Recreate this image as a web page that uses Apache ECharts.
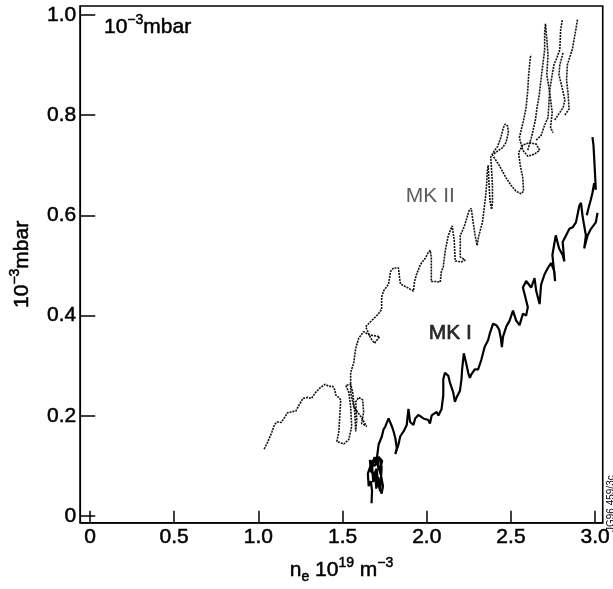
<!DOCTYPE html>
<html><head><meta charset="utf-8">
<script src="https://cdn.jsdelivr.net/npm/echarts@6/dist/echarts.min.js"></script>
<style>html,body{margin:0;padding:0;background:#fff}#c{width:613px;height:589px}</style>
</head><body><div id="c"></div>
<script>
const xTicks = [0, 0.5, 1.0, 1.5, 2.0, 2.5, 3.0];
const yTicks = [0, 0.2, 0.4, 0.6, 0.8, 1.0];
const labelNames = ['MK II', 'MK I'];
const labelPos = [[2.021, 0.639], [2.14, 0.364]];

const mk2Main = [
[1.034,0.134],[1.057,0.149],[1.080,0.168],[1.096,0.183],[1.112,0.188],[1.135,0.187],[1.158,0.198],[1.172,0.206],[1.195,0.208],[1.223,0.210],[1.242,0.222],[1.265,0.235],[1.293,0.237],[1.316,0.235],[1.327,0.241],[1.343,0.248],[1.366,0.256],[1.396,0.263],[1.419,0.259],[1.442,0.259],[1.454,0.252],[1.459,0.242],[1.477,0.237],
[1.489,0.232],[1.483,0.199],[1.478,0.169],[1.466,0.149],[1.507,0.144],[1.537,0.153],[1.554,0.179],[1.548,0.218],[1.537,0.247],[1.519,0.261],[1.548,0.263],[1.560,0.247],[1.572,0.208],[1.578,0.169],[1.584,0.193],[1.578,0.228],[1.596,0.237],[1.619,0.232],[1.625,0.208],[1.613,0.185],[1.643,0.179],[1.608,0.199],[1.566,0.218],[1.548,0.247],[1.548,0.286],[1.566,0.306],[1.578,0.335],[1.596,0.355],[1.625,0.368],[1.655,0.362],[1.720,0.358],[1.690,0.345],[1.667,0.355],[1.637,0.378],[1.673,0.390],[1.714,0.404],[1.732,0.413],[1.732,0.437],[1.743,0.449],[1.773,0.463],[1.785,0.488],[1.803,0.495],[1.832,0.495],[1.838,0.476],[1.844,0.463],[1.879,0.457],[1.921,0.449],[1.927,0.468],[1.939,0.482],[1.962,0.502],[1.992,0.515],[2.009,0.526],[2.021,0.530],[2.027,0.515],[2.027,0.495],[2.027,0.468],[2.051,0.468],[2.080,0.467],[2.086,0.487],[2.098,0.497],[2.110,0.530],[2.128,0.560],[2.151,0.579],[2.163,0.550],[2.169,0.509],[2.205,0.507],[2.228,0.511],[2.199,0.517],[2.199,0.560],[2.222,0.577],[2.252,0.610],[2.264,0.614],[2.275,0.587],[2.287,0.560],[2.299,0.540],[2.308,0.558],[2.331,0.587],[2.342,0.617],[2.350,0.640],[2.355,0.660],[2.360,0.690],[2.365,0.700],[2.370,0.660],[2.375,0.630],[2.385,0.612],[2.390,0.625],[2.390,0.660],[2.385,0.690],[2.380,0.716],[2.400,0.728],[2.420,0.737],[2.440,0.755],[2.455,0.775],[2.465,0.782],[2.480,0.778],[2.485,0.765],[2.470,0.745],[2.450,0.735],[2.420,0.728],[2.390,0.720],[2.430,0.700],[2.470,0.675],[2.500,0.660],[2.530,0.648],[2.560,0.643],[2.575,0.648],[2.570,0.675],[2.555,0.700],[2.545,0.725],[2.570,0.740],[2.610,0.745],[2.650,0.742],[2.670,0.730],[2.640,0.722],[2.600,0.718],[2.570,0.730],[2.550,0.755],[2.575,0.790],[2.590,0.815],[2.600,0.850],[2.605,0.880],[2.615,0.915],[2.620,0.920]
];
const mk2Strand2 = [[2.600,0.730],[2.625,0.760],[2.645,0.790],[2.655,0.815],[2.668,0.840],[2.677,0.867],[2.689,0.900],[2.700,0.930],[2.700,0.965],[2.705,0.982],[2.712,0.955],[2.720,0.920],[2.713,0.880],[2.730,0.845],[2.745,0.805],[2.735,0.775],[2.750,0.765]];
const mk2Strand3 = [[2.650,0.750],[2.680,0.760],[2.700,0.780],[2.720,0.795],[2.725,0.820],[2.730,0.850],[2.755,0.900],[2.770,0.912],[2.790,0.930],[2.795,0.970],[2.805,0.990]];
const mk2Strand4 = [[2.760,0.790],[2.790,0.805],[2.810,0.815],[2.820,0.830],[2.800,0.860],[2.785,0.880],[2.790,0.900],[2.810,0.925]];
const mk2Strand5 = [[2.820,0.800],[2.845,0.812],[2.840,0.840],[2.830,0.870],[2.835,0.900],[2.865,0.932],[2.885,0.970],[2.895,0.990]];

const mk1Main = [
[1.672,0.026],[1.675,0.050],[1.668,0.070],[1.655,0.060],[1.650,0.085],[1.665,0.100],[1.680,0.112],[1.700,0.108],[1.720,0.114],[1.732,0.098],[1.728,0.075],[1.722,0.050],[1.712,0.078],[1.700,0.055],[1.694,0.088],[1.682,0.068],[1.676,0.098],[1.690,0.118],[1.710,0.100],[1.728,0.082],[1.740,0.060],[1.732,0.045],[1.712,0.062],[1.702,0.095],[1.685,0.082],[1.668,0.090],[1.662,0.112],[1.690,0.100],[1.715,0.118],[1.735,0.110],[1.720,0.090],[1.704,0.117],
[1.714,0.143],[1.733,0.159],[1.743,0.173],[1.754,0.179],[1.773,0.195],[1.783,0.192],[1.793,0.179],[1.803,0.169],[1.813,0.156],[1.822,0.136],[1.813,0.124],[1.832,0.143],[1.842,0.159],[1.862,0.169],[1.881,0.182],[1.891,0.214],[1.901,0.188],[1.921,0.182],[1.931,0.195],[1.950,0.202],[1.980,0.195],[2.009,0.192],[2.019,0.185],[2.029,0.201],[2.059,0.208],[2.069,0.201],[2.088,0.214],[2.098,0.241],[2.098,0.273],[2.108,0.286],[2.128,0.280],[2.137,0.267],[2.157,0.247],[2.167,0.228],[2.177,0.237],[2.197,0.250],[2.206,0.273],[2.210,0.293],[2.220,0.325],[2.236,0.302],[2.246,0.286],[2.256,0.276],[2.265,0.283],[2.285,0.293],[2.305,0.293],[2.324,0.312],[2.344,0.338],[2.364,0.351],[2.374,0.364],[2.394,0.384],[2.413,0.381],[2.430,0.372],[2.440,0.355],[2.446,0.337],[2.453,0.358],[2.472,0.378],[2.492,0.390],[2.512,0.410],[2.531,0.390],[2.551,0.381],[2.571,0.404],[2.590,0.400],[2.600,0.417],[2.571,0.456],[2.590,0.469],[2.620,0.456],[2.640,0.475],[2.650,0.449],[2.670,0.423],[2.679,0.462],[2.699,0.482],[2.719,0.495],[2.738,0.505],[2.758,0.488],[2.762,0.469],[2.746,0.521],[2.766,0.560],[2.786,0.534],[2.807,0.521],[2.817,0.508],[2.807,0.547],[2.827,0.560],[2.847,0.573],[2.866,0.576],[2.886,0.586],[2.906,0.619],[2.916,0.625],[2.925,0.599],[2.935,0.579],[2.945,0.560],[2.935,0.534],[2.955,0.560],[2.975,0.573],[3.004,0.586],[3.014,0.605]
];
const mk1Upper = [[2.950,0.600],[2.965,0.620],[2.975,0.632],[2.984,0.645],[2.994,0.664],[3.004,0.651],[2.998,0.690],[2.994,0.716],[2.990,0.740],[2.984,0.756]];

const FONT = '"Liberation Sans", Arial, Helvetica, sans-serif';
const fmt = v => (v === 0 ? '0' : v.toFixed(1));
const heavy = { textBorderColor: '#000', textBorderWidth: 0.5 };
const richText = {
  a: Object.assign({ fontFamily: FONT, fontSize: 21, fontWeight: 'normal', color: '#000', lineHeight: 28, verticalAlign: 'middle' }, heavy),
  s: Object.assign({ fontFamily: FONT, fontSize: 14, fontWeight: 'normal', color: '#000', lineHeight: 14, verticalAlign: 'top' }, heavy),
  b: Object.assign({ fontFamily: FONT, fontSize: 14, fontWeight: 'normal', color: '#000', lineHeight: 14, verticalAlign: 'bottom' }, heavy)
};
const mk2Line = { color: '#111', width: 1.6, type: [2, 1] };
const mk1Line = { color: '#000', width: 2.2 };
function lineSeries(name, data, ls) {
  return { name, type: 'line', data, showSymbol: false, symbol: 'none', lineStyle: ls, silent: true, z: 3 };
}
const tickLabel = Object.assign({ fontFamily: FONT, fontSize: 21, fontWeight: 'normal', color: '#000' }, heavy);

const chart = echarts.init(document.getElementById('c'), null, { renderer: 'canvas' });
chart.setOption({
  animation: false,
  backgroundColor: '#fff',
  title: {
    text: '{a|10}{s|−3}{a|mbar}', left: 104, top: 13, padding: 0,
    textStyle: { fontWeight: 'normal', rich: richText }
  },
  grid: { left: 80, right: 8, top: 6, bottom: 56, show: true, borderColor: '#000', borderWidth: 1.6 },
  xAxis: {
    type: 'value', min: -0.058, max: 3.045,
    axisLine: { show: true, onZero: false, lineStyle: { color: '#000', width: 1.6 } },
    axisTick: { show: true, inside: true, length: 12, customValues: xTicks, lineStyle: { color: '#000', width: 1.5 } },
    axisLabel: Object.assign({ show: true, customValues: xTicks, formatter: fmt, margin: 4 }, tickLabel),
    splitLine: { show: false },
    name: '{a|n}{b|e}{a| 10}{s|19}{a| m}{s|−3}', nameLocation: 'middle', nameGap: 33,
    nameTextStyle: { rich: richText }
  },
  yAxis: {
    type: 'value', min: -0.013, max: 1.0174,
    axisLine: { show: true, onZero: false, lineStyle: { color: '#000', width: 1.6 } },
    axisTick: { show: true, inside: true, length: 15, customValues: yTicks, lineStyle: { color: '#000', width: 1.5 } },
    axisLabel: Object.assign({ show: true, customValues: yTicks, formatter: fmt, margin: 4 }, tickLabel),
    splitLine: { show: false },
    name: '{a|10}{s|−3}{a|mbar}', nameLocation: 'middle', nameGap: 44, nameRotate: 90,
    nameTextStyle: { rich: richText }
  },
  graphic: [{
    type: 'text', x: 606, y: 532, rotation: Math.PI / 2,
    style: { text: 'JG96.459/3c', fontSize: 10, fontFamily: FONT, fill: '#000', verticalAlign: 'top' }
  }],
  series: [
    lineSeries('MK II', mk2Main, mk2Line),
    lineSeries('MK II b', mk2Strand2, mk2Line),
    lineSeries('MK II c', mk2Strand3, mk2Line),
    lineSeries('MK II d', mk2Strand4, mk2Line),
    lineSeries('MK II e', mk2Strand5, mk2Line),
    lineSeries('MK I', mk1Main, mk1Line),
    lineSeries('MK I b', mk1Upper, mk1Line),
    {
      type: 'scatter', symbolSize: 0, silent: true, z: 5,
      data: labelPos.map((p, i) => ({ value: p, name: labelNames[i],
        label: i === 0 ? { color: '#333', textBorderWidth: 0 } : { color: '#000', textBorderColor: '#000', textBorderWidth: 0.7 } })),
      label: { show: true, position: 'inside', formatter: p => p.name, fontFamily: FONT, fontSize: 21, fontWeight: 'normal' }
    }
  ]
});
</script></body></html>
